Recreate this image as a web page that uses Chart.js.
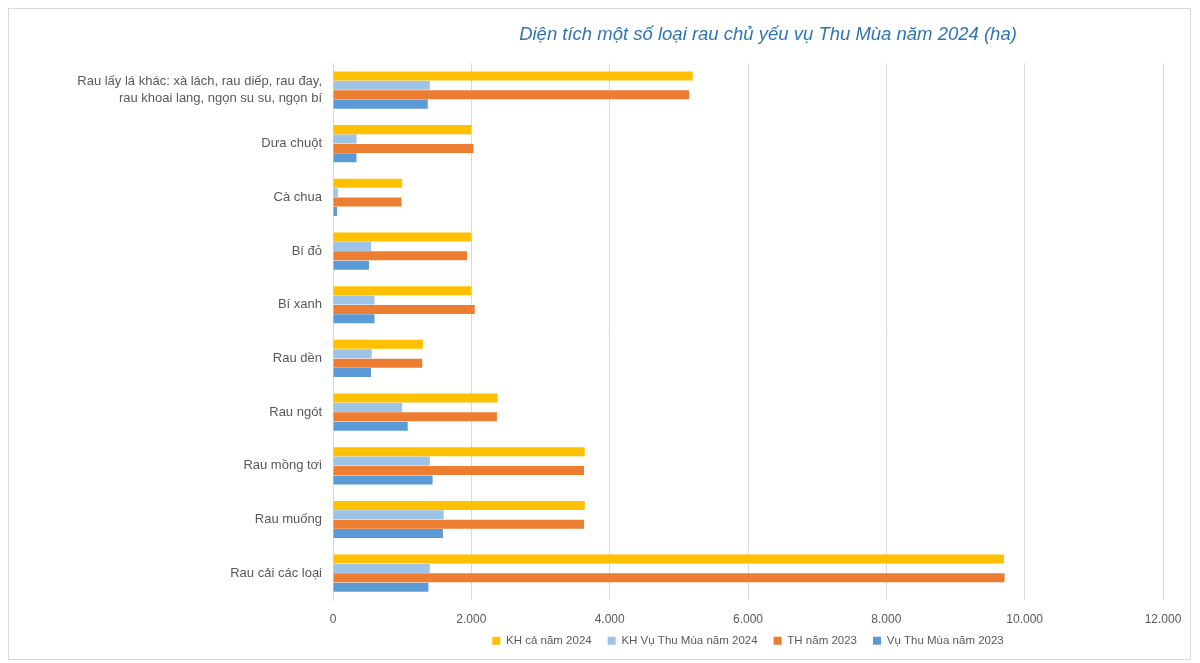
<!DOCTYPE html>
<html>
<head>
<meta charset="utf-8">
<title>Diện tích rau vụ Thu Mùa 2024</title>
<script src="https://cdn.jsdelivr.net/npm/chart.js"></script>
<style>
  html, body { margin: 0; padding: 0; background: #fff; }
  #wrap {
    position: absolute; left: 8px; top: 8px;
    width: 1183px; height: 652px;
    border: 1px solid #d9d9d9; box-sizing: border-box;
  }
</style>
</head>
<body>
<div id="wrap"><canvas id="areaChart"></canvas></div>
<script>
// categories, top to bottom as in the original
const categories = [
  ['Rau lấy lá khác: xà lách, rau diếp, rau đay,', 'rau khoai lang, ngọn su su, ngọn bí'],
  'Dưa chuột',
  'Cà chua',
  'Bí đỏ',
  'Bí xanh',
  'Rau dền',
  'Rau ngót',
  'Rau mồng tơi',
  'Rau muống',
  'Rau cải các loại'
];

// ha
const khCaNam2024    = [5200, 2000, 1000, 2000, 2000, 1300, 2380, 3640, 3640, 9700];
const khThuMua2024   = [1400,  340,   70,  550,  600,  560, 1000, 1400, 1600, 1400];
const thNam2023      = [5150, 2030,  990, 1940, 2050, 1290, 2370, 3630, 3630, 9710];
const vuThuMua2023   = [1370,  340,   60,  520,  600,  550, 1080, 1440, 1590, 1380];

const xTicks = [0, 2000, 4000, 6000, 8000, 10000, 12000];

const grey = '#595959';

// title sits a bit right of the plot centre, legend pulled up closer to the ticks
const nudgeBlocks = {
  id: 'nudgeBlocks',
  afterLayout(chart) {
    if (chart.titleBlock) {
      chart.titleBlock.left += 20;
      chart.titleBlock.right += 20;
    }
    if (chart.legend) {
      chart.legend.top -= 8;
    }
  }
};

const ctx = document.getElementById('areaChart').getContext('2d');
const myChart = new Chart(ctx, {
  type: 'bar',
  data: {
    labels: categories,
    datasets: [{
      label: 'KH cả năm 2024',
      data: khCaNam2024,
      backgroundColor: '#FFC000'
    }, {
      label: 'KH Vụ Thu Mùa năm 2024',
      data: khThuMua2024,
      backgroundColor: '#9DC3E6'
    }, {
      label: 'TH năm 2023',
      data: thNam2023,
      backgroundColor: '#ED7D31'
    }, {
      label: 'Vụ Thu Mùa năm 2023',
      data: vuThuMua2023,
      backgroundColor: '#5B9BD5'
    }]
  },
  options: {
    indexAxis: 'y',
    responsive: true,
    maintainAspectRatio: false,
    animation: false,
    datasets: { bar: { categoryPercentage: 0.7, barPercentage: 0.96 } },
    layout: { padding: { left: 0, right: 27, top: 0, bottom: -5.5 } },
    plugins: {
      title: {
        display: true,
        fullSize: false,
        text: 'Diện tích một số loại rau chủ yếu vụ Thu Mùa năm 2024 (ha)',
        color: '#2f75b5',
        font: { family: '"Liberation Sans", Arial, sans-serif', size: 18.5, style: 'italic', weight: 'normal' },
        padding: { top: 15, bottom: 17 }
      },
      legend: {
        position: 'bottom',
        fullSize: false,
        labels: {
          color: grey,
          boxWidth: 8,
          boxHeight: 8,
          padding: 16,
          font: { family: '"Liberation Sans", Arial, sans-serif', size: 11.5 }
        }
      },
      tooltip: { enabled: false }
    },
    scales: {
      x: {
        min: 0,
        max: 12000,
        afterBuildTicks: scale => { scale.ticks = xTicks.map(v => ({ value: v })); },
        afterFit: scale => { scale.height = 27; scale.paddingRight = 0; },
        ticks: {
          color: grey,
          padding: 12,
          font: { family: '"Liberation Sans", Arial, sans-serif', size: 12 },
          callback: v => v.toString().replace(/\B(?=(\d{3})+(?!\d))/g, '.')
        },
        grid: { color: '#d9d9d9', drawTicks: false },
        border: { display: false }
      },
      y: {
        afterFit: scale => { scale.width = 324; },
        ticks: {
          color: grey,
          padding: 11,
          font: { family: '"Liberation Sans", Arial, sans-serif', size: 13, lineHeight: 1.35 }
        },
        grid: { display: false, drawTicks: false },
        border: { display: true, color: '#d9d9d9' }
      }
    }
  },
  plugins: [nudgeBlocks]
});
</script>
</body>
</html>
